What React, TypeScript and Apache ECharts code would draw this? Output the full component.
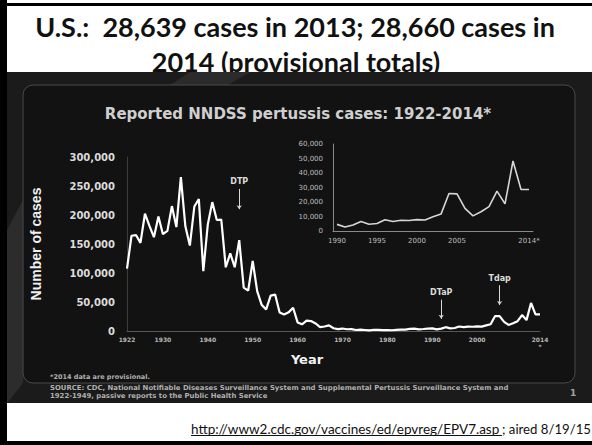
import React, { useEffect, useRef } from 'react';
import * as echarts from 'echarts';

// ---- data ----
const startYear = 1922;
const mainCases = [
  107473, 164191, 165418, 152003, 202210, 181411, 161799, 197371, 166914, 172559,
  215343, 179135, 265269, 180518, 147237, 214652, 227319, 103188, 183866, 222202,
  191383, 191890, 109873, 133792, 109860, 156517, 74715, 69479, 120718, 68687,
  45030, 37129, 60886, 62786, 31732, 28295, 32148, 40005, 14809, 11468,
  17749, 17135, 13005, 6799, 7717, 9718, 4810, 3285, 4249, 3036,
  3287, 1759, 2402, 1738, 1010, 2177, 2063, 1623, 1730, 1248,
  1895, 2463, 2276, 3589, 4195, 2823, 3450, 4157, 4570, 2719,
  4083, 6586, 4617, 5137, 7796, 6564, 7405, 7288, 7867, 7580,
  9771, 11647, 25827, 25616, 15632, 10454, 13278, 16858, 27550, 18719,
  48277, 28639, 28660,
];
const years = mainCases.map((_, i) => String(startYear + i));
const mainTickYears = ['1922', '1930', '1940', '1950', '1960', '1970', '1980', '1990', '2000', '2014'];

const insetYears = [
  '1990', '1991', '1992', '1993', '1994', '1995', '1996', '1997', '1998', '1999',
  '2000', '2001', '2002', '2003', '2004', '2005', '2006', '2007', '2008', '2009',
  '2010', '2011', '2012', '2013', '2014',
];
const insetCases = [
  4570, 2719, 4083, 6586, 4617, 5137, 7796, 6564, 7405, 7288,
  7867, 7580, 9771, 11647, 25827, 25616, 15632, 10454, 13278, 16858,
  27550, 18719, 48277, 28639, 28660,
];
const insetTickYears = ['1990', '1995', '2000', '2005', '2014'];

const annotations = [
  { name: 'DTP', year: '1947', from: 245000, to: 210000 },
  { name: 'DTaP', year: '1992', from: 54000, to: 21000 },
  { name: 'Tdap', year: '2005', from: 79000, to: 45000 },
];

const slideTitle1 = 'U.S.:  28,639 cases in 2013; 28,660 cases in';
const slideTitle2 = '2014 (provisional totals)';
const chartTitle = 'Reported NNDSS pertussis cases: 1922-2014*';
const footnote1 = '*2014 data are provisional.';
const footnote2 =
  'SOURCE: CDC, National Notifiable Diseases Surveillance System and Supplemental Pertussis Surveillance System and';
const footnote3 = '1922-1949, passive reports to the Public Health Service';
const urlText = 'http://www2.cdc.gov/vaccines/ed/epvreg/EPV7.asp';
const airedText = '; aired 8/19/15';

const VERD = 'DejaVu Sans, Verdana, sans-serif';
const CAL = 'Lato, "Open Sans", sans-serif';

export default function App() {
  const ref = useRef<HTMLDivElement>(null);
  useEffect(() => {
    if (!ref.current) return;
    const chart = echarts.init(ref.current, null, { renderer: 'svg' });
    const fmt = (v: number) => v.toLocaleString('en-US');
    const option: any = {
      animation: false,
      backgroundColor: '#ffffff',
      graphic: [
        // frame & backgrounds
        { type: 'rect', z: -20, shape: { x: 0, y: 0, width: 7, height: 445 }, style: { fill: '#000' } },
        { type: 'rect', z: -20, shape: { x: 0, y: 3, width: 592, height: 3 }, style: { fill: '#000' } },
        { type: 'rect', z: -20, shape: { x: 0, y: 441, width: 592, height: 4 }, style: { fill: '#000' } },
        {
          type: 'text', z: -15, x: 295, y: 26,
          style: { text: slideTitle1, fill: '#111', font: `bold 27px ${CAL}`, align: 'center', verticalAlign: 'middle' },
        },
        {
          type: 'text', z: -15, x: 296, y: 61,
          style: { text: slideTitle2, fill: '#111', font: `bold 27px ${CAL}`, align: 'center', verticalAlign: 'middle' },
        },
        { type: 'rect', z: -10, shape: { x: 7, y: 72, width: 585, height: 331 }, style: { fill: '#1b1b1b' } },
        {
          type: 'polygon', z: -9,
          shape: { points: [[190, 72], [250, 72], [228, 85], [170, 85]] },
          style: { fill: 'rgba(255,255,255,0.07)' },
        },
        {
          type: 'polygon', z: -9,
          shape: { points: [[7, 230], [23, 200], [23, 383], [7, 403]] },
          style: { fill: 'rgba(255,255,255,0.08)' },
        },
        {
          type: 'rect', z: -8,
          shape: { x: 23, y: 85, width: 552, height: 298, r: 10 },
          style: { fill: '#121212', stroke: '#4a4a4a', lineWidth: 1 },
        },
        {
          type: 'text', z: 5, x: 298, y: 114,
          style: { text: chartTitle, fill: '#cfcfcf', font: `bold 15px ${VERD}`, align: 'center', verticalAlign: 'middle' },
        },
        {
          type: 'text', z: 5, x: 307, y: 359,
          style: { text: 'Year', fill: '#f2f2f2', font: `bold 13px ${VERD}`, align: 'center', verticalAlign: 'middle' },
        },
        {
          type: 'text', z: 5, x: 50, y: 377,
          style: { text: footnote1, fill: '#b0b0b0', font: `bold 6.5px ${VERD}`, align: 'left', verticalAlign: 'middle' },
        },
        {
          type: 'text', z: 5, x: 50, y: 388,
          style: { text: footnote2, fill: '#b0b0b0', font: `bold 6.9px ${VERD}`, align: 'left', verticalAlign: 'middle' },
        },
        {
          type: 'text', z: 5, x: 50, y: 395.5,
          style: { text: footnote3, fill: '#b0b0b0', font: `bold 6.9px ${VERD}`, align: 'left', verticalAlign: 'middle' },
        },
        {
          type: 'text', z: 5, x: 573, y: 393,
          style: { text: '1', fill: '#a0a0a0', font: `bold 9px ${VERD}`, align: 'center', verticalAlign: 'middle' },
        },
        // url
        {
          type: 'text', z: 5, x: 191, y: 429,
          style: { text: urlText, fill: '#111', font: `13.5px ${CAL}`, align: 'left', verticalAlign: 'middle' },
        },
        { type: 'line', z: 5, shape: { x1: 191, y1: 435.5, x2: 502, y2: 435.5 }, style: { stroke: '#111', lineWidth: 1 } },
        {
          type: 'text', z: 5, x: 502, y: 429,
          style: { text: airedText, fill: '#111', font: `13.2px ${CAL}`, align: 'left', verticalAlign: 'middle' },
        },
      ],
      grid: [
        { left: 127, top: 157, right: 52, bottom: 114 },
        { left: 333, top: 144, width: 200, height: 87 },
      ],
      xAxis: [
        {
          type: 'category',
          gridIndex: 0,
          data: years,
          boundaryGap: false,
          axisLine: { lineStyle: { color: '#555', width: 1 } },
          axisTick: { show: false },
          axisLabel: {
            interval: (_i: number, v: string) => mainTickYears.includes(v),
            formatter: (v: string) => (v === '2014' ? '2014\n*' : v),
            color: '#b8b8b8',
            fontSize: 6,
            fontWeight: 'bold',
            fontFamily: VERD,
            margin: 5,
            lineHeight: 7,
          },
          splitLine: { show: false },
        },
        {
          type: 'category',
          gridIndex: 1,
          data: insetYears,
          boundaryGap: true,
          axisLine: { lineStyle: { color: '#8a8a8a', width: 1 } },
          axisTick: { show: false },
          axisLabel: {
            interval: (_i: number, v: string) => insetTickYears.includes(v),
            formatter: (v: string) => (v === '2014' ? '2014*' : v),
            color: '#bdbdbd',
            fontSize: 7,
            fontFamily: VERD,
            margin: 6,
          },
          splitLine: { show: false },
        },
      ],
      yAxis: [
        {
          type: 'value',
          gridIndex: 0,
          min: 0,
          max: 300000,
          interval: 50000,
          name: 'Number of cases',
          nameLocation: 'middle',
          nameRotate: 90,
          nameGap: 84,
          nameTextStyle: {
            color: '#f0f0f0',
            fontSize: 14,
            fontWeight: 'bold',
            fontFamily: '"Liberation Sans Narrow", "Arial Narrow", "Liberation Sans", sans-serif',
          },
          axisLine: { show: true, lineStyle: { color: '#3c3c3c', width: 1 } },
          axisTick: { show: false },
          splitLine: { show: false },
          axisLabel: {
            formatter: fmt,
            color: '#dcdcdc',
            fontSize: 10,
            fontWeight: 'bold',
            fontFamily: VERD,
            margin: 12,
          },
        },
        {
          type: 'value',
          gridIndex: 1,
          min: 0,
          max: 60000,
          interval: 10000,
          axisLine: { show: true, lineStyle: { color: '#8a8a8a', width: 1 } },
          axisTick: { show: false },
          splitLine: { show: false },
          axisLabel: {
            formatter: fmt,
            color: '#bdbdbd',
            fontSize: 7,
            fontFamily: VERD,
            margin: 10,
          },
        },
      ],
      series: [
        {
          type: 'line',
          name: 'Reported cases',
          xAxisIndex: 0,
          yAxisIndex: 0,
          data: mainCases,
          showSymbol: false,
          symbol: 'none',
          lineStyle: { color: '#ffffff', width: 2.2 },
          itemStyle: { color: '#ffffff' },
          z: 3,
          markLine: {
            silent: true,
            symbol: ['none', 'arrow'],
            symbolSize: 4,
            lineStyle: { color: '#d8d8d8', width: 1, type: 'solid' },
            label: {
              show: true,
              position: 'start',
              formatter: (p: any) => p.name,
              color: '#dddddd',
              fontSize: 8,
              fontWeight: 'bold',
              fontFamily: VERD,
              distance: 3,
            },
            data: annotations.map((a) => [
              { name: a.name, coord: [a.year, a.from] },
              { coord: [a.year, a.to] },
            ]),
          },
        },
        {
          type: 'line',
          name: 'Reported cases 1990-2014',
          xAxisIndex: 1,
          yAxisIndex: 1,
          data: insetCases,
          showSymbol: false,
          symbol: 'none',
          lineStyle: { color: '#d6d6d6', width: 1.6 },
          itemStyle: { color: '#d6d6d6' },
          z: 3,
        },
      ],
    };
    chart.setOption(option);
    return () => chart.dispose();
  }, []);
  return (
    <div
      ref={ref}
      style={{ position: 'fixed', left: 0, top: 0, width: 592, height: 445 }}
    />
  );
}
